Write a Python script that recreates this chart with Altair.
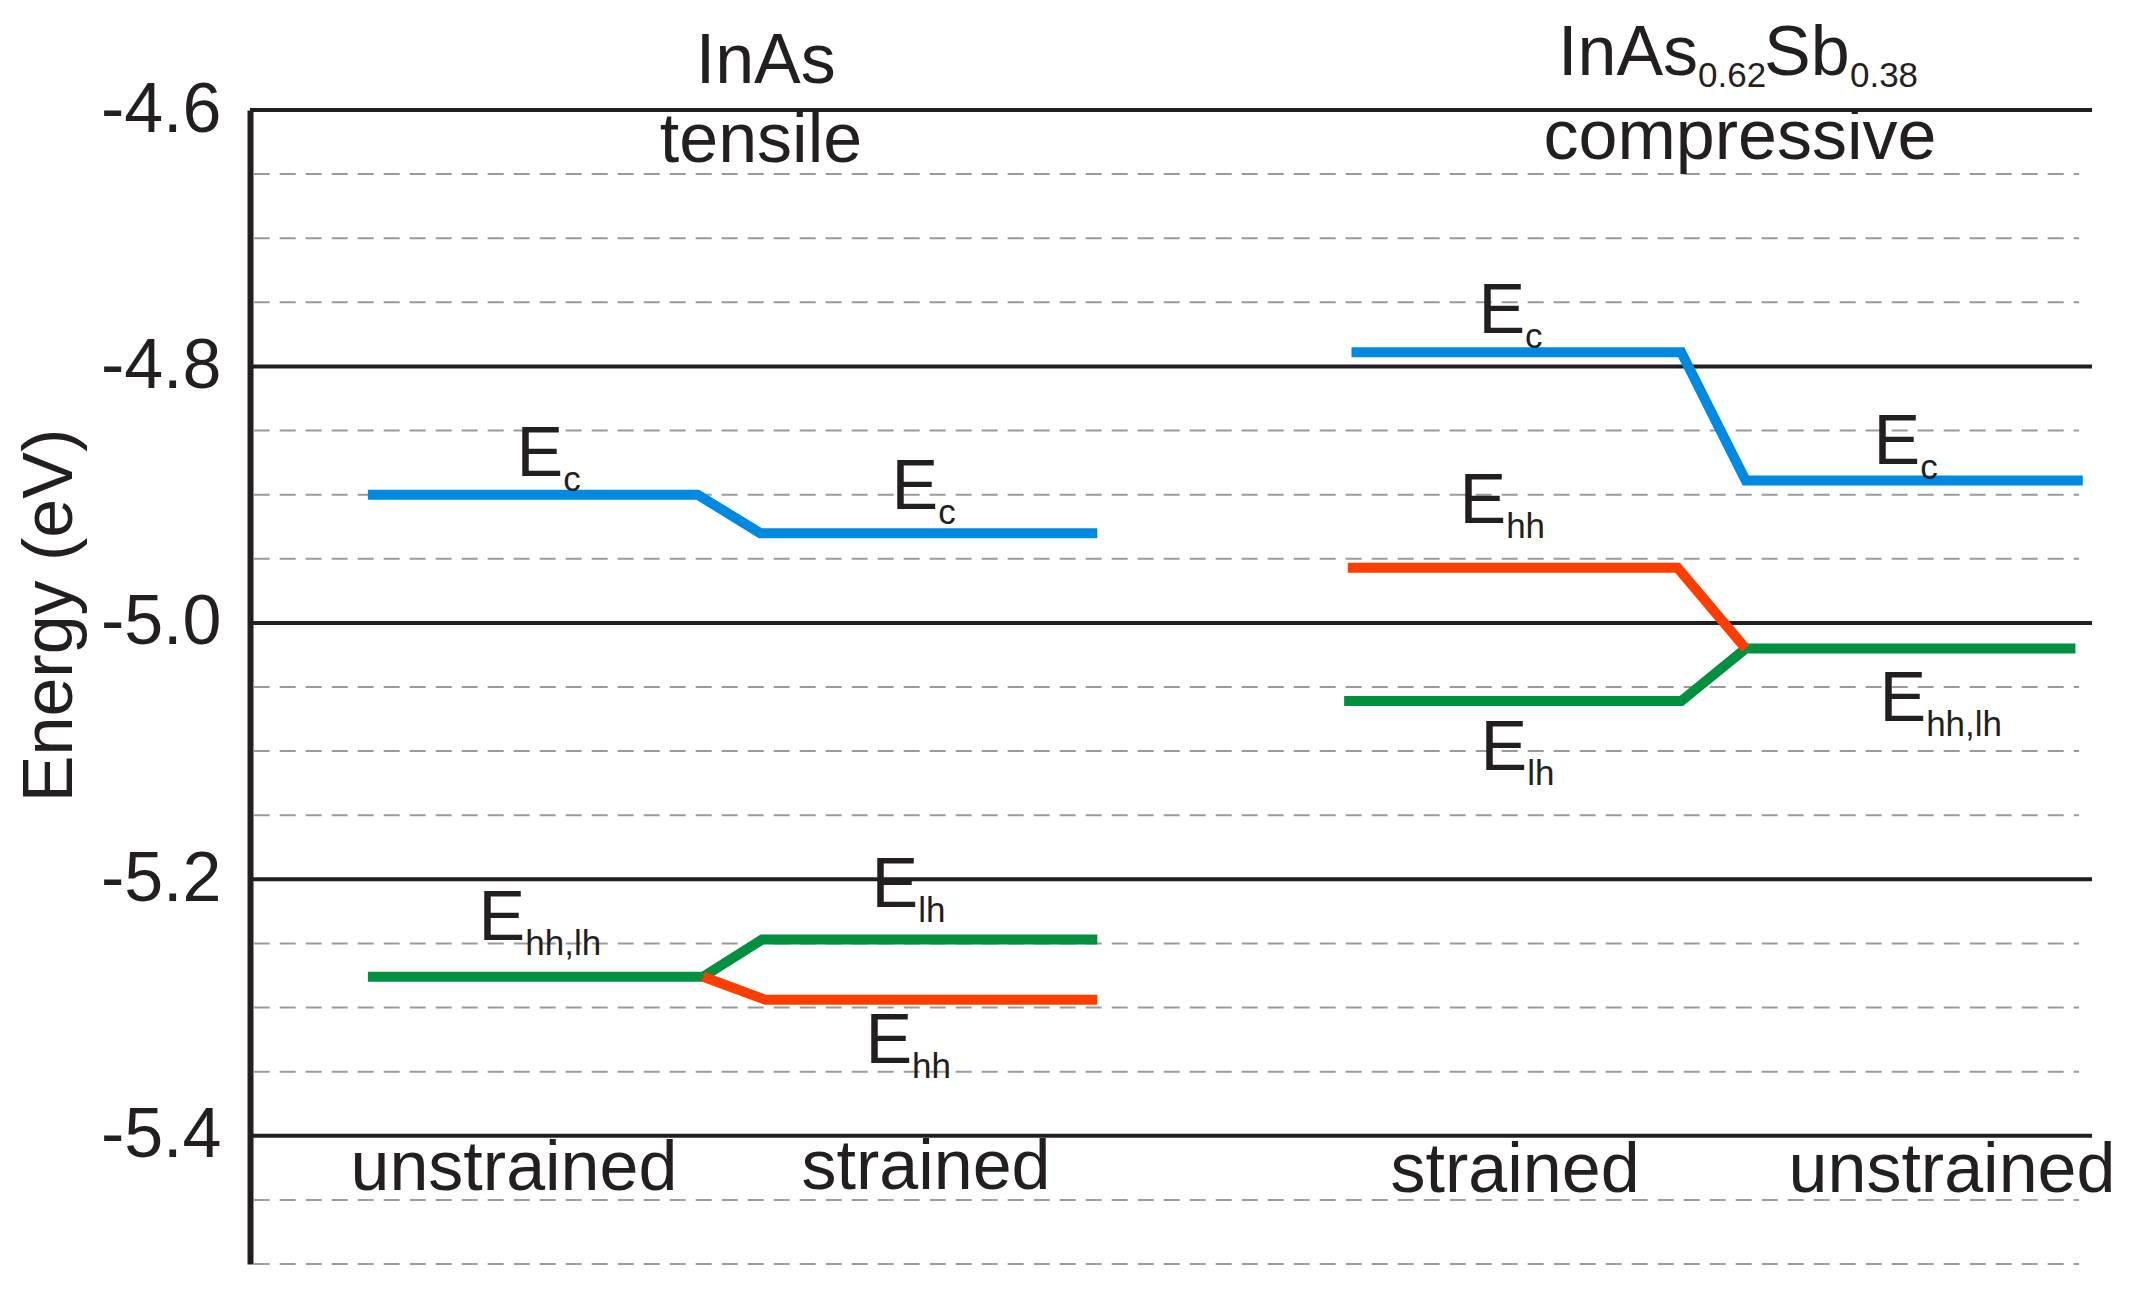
import altair as alt
import pandas as pd

FONT = "Liberation Sans, Arial, Helvetica, sans-serif"
INK = "#231F20"

# ---------------- data ----------------
# energy axis (eV)
y_ticks = [-4.6, -4.8, -5.0, -5.2, -5.4]
major_levels = [-4.6, -4.8, -5.0, -5.2, -5.4]
minor_levels = [-4.65, -4.70, -4.75, -4.85, -4.90, -4.95, -5.05, -5.10,
                -5.15, -5.25, -5.30, -5.35, -5.45, -5.50]
major_span = [0.0, 100.0]
minor_span = [0.2, 99.3]

# band-edge lines (x in arbitrary position units 0..100, y in eV)
line_ids = ["InAs Ec", "InAs lh", "InAs hh", "InAsSb Ec", "InAsSb lh", "InAsSb hh"]
line_bands = ["Ec", "Elh", "Ehh", "Ec", "Elh", "Ehh"]
line_x = [
    [6.4, 24.3, 27.7, 46.0],
    [6.4, 24.6, 27.8, 46.0],
    [24.6, 28.0, 46.0],
    [59.8, 77.7, 81.2, 99.5],
    [59.4, 77.7, 81.2, 99.1],
    [59.6, 77.5, 81.2],
]
line_y = [
    [-4.900, -4.900, -4.930, -4.930],
    [-5.276, -5.276, -5.247, -5.247],
    [-5.276, -5.294, -5.294],
    [-4.789, -4.789, -4.889, -4.889],
    [-5.061, -5.061, -5.020, -5.020],
    [-4.957, -4.957, -5.020],
]
band_domain = ["Ec", "Ehh", "Elh"]
band_colors = ["#0089E1", "#FF3D00", "#009040"]

# energy level labels  E_sub
elab_sub = ["c", "c", "hh,lh", "lh", "hh", "c", "c", "hh", "lh", "hh,lh"]
elab_x = [14.47, 34.83, 12.41, 33.74, 33.41, 66.69, 88.14, 65.66, 66.80, 88.46]
elab_y = [-4.8855, -4.9112, -5.2474, -5.2217, -5.3434, -4.774, -4.8761,
          -4.9222, -5.1148, -5.0766]
sub_dx = 2.535
sub_dy = -0.0113

# centred captions
cap_text = ["InAs", "tensile", "compressive", "unstrained", "strained",
            "strained", "unstrained"]
cap_x = [28.0, 27.74, 80.89, 14.33, 36.70, 68.68, 92.40]
cap_y = [-4.579, -4.6406, -4.6382, -5.4424, -5.4417, -5.444, -5.444]

# InAs0.62Sb0.38 heading, written piece by piece
head_text = ["InAs", "0.62", "Sb", "0.38"]
head_big = [True, False, True, False]
head_x = [71.01, 78.61, 82.19, 86.86]
head_y = [-4.5727, -4.5821, -4.5727, -4.5821]

# ---------------- tables ----------------
rows = []
for lid, band, xs, ys in zip(line_ids, line_bands, line_x, line_y):
    for i, (xv, yv) in enumerate(zip(xs, ys)):
        rows.append({"id": lid, "band": band, "i": i, "x": xv, "y": yv})
lines_df = pd.DataFrame(rows)
lines_main = lines_df[lines_df.band != "Ehh"]
lines_red = lines_df[lines_df.band == "Ehh"]

minor_df = pd.DataFrame({"y": minor_levels, "x": minor_span[0], "x2": minor_span[1]})
major_df = pd.DataFrame({"y": major_levels, "x": major_span[0], "x2": major_span[1]})

big_rows = [{"t": "E", "x": x, "y": y} for x, y in zip(elab_x, elab_y)]
small_rows = [{"t": s, "x": x + sub_dx, "y": y + sub_dy}
              for s, x, y in zip(elab_sub, elab_x, elab_y)]
for t, b, x, y in zip(head_text, head_big, head_x, head_y):
    (big_rows if b else small_rows).append({"t": t, "x": x, "y": y})
big_df = pd.DataFrame(big_rows)
small_df = pd.DataFrame(small_rows)
cap_df = pd.DataFrame({"t": cap_text, "x": cap_x, "y": cap_y})

# ---------------- encodings ----------------
x_enc = alt.X("x:Q", scale=alt.Scale(domain=[0, 100], nice=False, zero=False), axis=None)
y_enc = alt.Y(
    "y:Q",
    scale=alt.Scale(domain=[-5.5, -4.6], nice=False, zero=False),
    axis=alt.Axis(
        values=y_ticks,
        labelExpr="'-' + format(abs(datum.value), '.1f')",
        labelFont=FONT, labelFontSize=70, labelColor=INK, labelPadding=29,
        ticks=False, tickSize=0, grid=False,
        domain=True, domainColor=INK, domainWidth=6,
        title="Energy (eV)", titleFont=FONT, titleFontSize=70,
        titleFontWeight="normal", titleColor=INK, titleAngle=270,
        titleAlign="center", titleBaseline="alphabetic",
        titleX=-179, titleY=505,
    ),
)

minor = alt.Chart(minor_df).mark_rule(
    stroke="#9A9A9A", strokeWidth=2, strokeDash=[16, 10]
).encode(x=x_enc, x2="x2:Q", y=y_enc)

major = alt.Chart(major_df).mark_rule(stroke=INK, strokeWidth=4).encode(
    x=x_enc, x2="x2:Q", y=y_enc)

color_enc = alt.Color("band:N", scale=alt.Scale(domain=band_domain, range=band_colors),
                      legend=None)

lines1 = alt.Chart(lines_main).mark_line(
    strokeWidth=10, strokeJoin="miter", strokeCap="butt"
).encode(x=x_enc, y=y_enc, color=color_enc, detail="id:N", order="i:Q")

lines2 = alt.Chart(lines_red).mark_line(
    strokeWidth=10, strokeJoin="miter", strokeCap="butt"
).encode(x=x_enc, y=y_enc, color=color_enc, detail="id:N", order="i:Q")

big = alt.Chart(big_df).mark_text(
    font=FONT, fontSize=70, color=INK, align="left", baseline="alphabetic"
).encode(x=x_enc, y=y_enc, text="t:N")

small = alt.Chart(small_df).mark_text(
    font=FONT, fontSize=35, color=INK, align="left", baseline="alphabetic"
).encode(x=x_enc, y=y_enc, text="t:N")

caps = alt.Chart(cap_df).mark_text(
    font=FONT, fontSize=70, color=INK, align="center", baseline="alphabetic"
).encode(x=x_enc, y=y_enc, text="t:N")

chart = alt.layer(minor, major, lines1, lines2, big, small, caps).properties(
    width=1842, height=1154,
    padding={"left": 242, "top": 102, "right": 30, "bottom": 20},
    autosize=alt.AutoSizeParams(type="none"),
    background="white",
).configure_view(stroke=None)

chart.save("out.html", embed_options={"renderer": "svg", "actions": False})
